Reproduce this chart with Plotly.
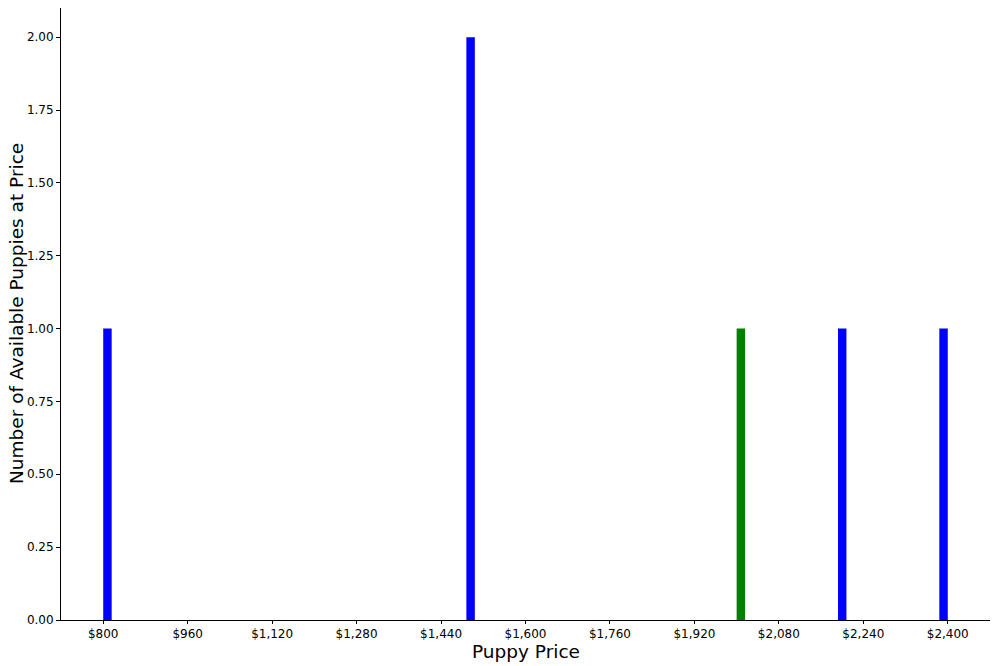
import numpy as np
import plotly.graph_objects as go

# Data
blue_prices = [800, 1500, 1500, 2200, 2400]
green_prices = [2000]
bin_start = 800
bin_end = 2400
n_bins = 100
x_ticks = [800, 960, 1120, 1280, 1440, 1600, 1760, 1920, 2080, 2240, 2400]
x_tick_labels = ["${:,}".format(v) for v in x_ticks]
y_ticks = [0.0, 0.25, 0.5, 0.75, 1.0, 1.25, 1.5, 1.75, 2.0]
y_tick_labels = ["{:.2f}".format(v) for v in y_ticks]
x_title = "Puppy Price"
y_title = "Number of Available Puppies at Price"

edges = np.linspace(bin_start, bin_end, n_bins + 1)
width = edges[1] - edges[0]
centers = (edges[:-1] + edges[1:]) / 2

fig = go.Figure()
for prices, color in [(blue_prices, "#0000ff"), (green_prices, "#008000")]:
    counts, _ = np.histogram(prices, bins=edges)
    mask = counts > 0
    fig.add_trace(go.Bar(x=centers[mask], y=counts[mask], width=width,
                         marker=dict(color=color, line=dict(width=0)),
                         showlegend=False))

span = bin_end - bin_start
fig.update_layout(
    width=1000, height=666,
    margin=dict(l=61, r=10, t=8, b=46),
    plot_bgcolor="white", paper_bgcolor="white",
    barmode="overlay",
    font=dict(family="DejaVu Sans", color="black", size=12),
    xaxis=dict(range=[bin_start - 0.05 * span, bin_end + 0.05 * span],
               tickvals=x_ticks, ticktext=x_tick_labels, automargin=False,
               showgrid=False, zeroline=False, showline=True, linecolor="black",
               linewidth=1, ticks="outside", ticklen=3, tickcolor="black"),
    yaxis=dict(range=[0, 2.1], tickvals=y_ticks, ticktext=y_tick_labels, automargin=False,
               showgrid=False, zeroline=False, showline=True, linecolor="black",
               linewidth=1, ticks="outside", ticklen=4, tickcolor="black"),
    annotations=[
        dict(text=x_title, xref="paper", yref="paper", x=0.5, y=0,
             xanchor="center", yanchor="middle", yshift=-31, showarrow=False,
             font=dict(size=18.5)),
        dict(text=y_title, xref="paper", yref="paper", x=0, y=0.5,
             xanchor="center", yanchor="middle", xshift=-45, textangle=-90,
             showarrow=False, font=dict(size=18.5)),
    ],
)
fig.write_html("out.html", config={"displayModeBar": False},
               post_script="document.body.style.margin='0';")
